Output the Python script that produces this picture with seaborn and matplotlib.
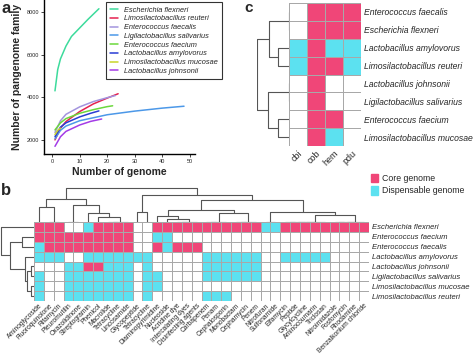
import matplotlib
matplotlib.use("Agg")
import matplotlib.pyplot as plt
import numpy as np
import pandas as pd
import seaborn as sns
from matplotlib.colors import ListedColormap
from matplotlib.lines import Line2D
from matplotlib.patches import Patch

sns.set_theme(style="white")
plt.rcParams["font.family"] = ["Liberation Sans", "DejaVu Sans"]

W, H = 474, 355
PINK = "#F04678"
CYAN = "#5CE1F0"
GRID = "#a8a8a8"
TREE = "#555555"

# ---- panel a: pangenome curves ----
species_a = ["Escherichia flexneri", "Limosilactobacillus reuteri", "Enterococcus faecalis",
             "Ligilactobacillus salivarius", "Enterococcus faecium", "Lactobacillus amylovorus",
             "Limosilactobacillus mucosae", "Lactobacillus johnsonii"]
colors_a = ["#3DDB9C", "#E5214F", "#A394DE", "#4C98E8", "#6BD83C", "#2A3CD4", "#C9D42A", "#A43BE6"]

flex_x = [1, 2, 3, 5, 7, 10, 13, 17]
flex_y = [4300, 5300, 5800, 6400, 6850, 7250, 7650, 8150]
reut_x = [1, 3, 5, 10, 15, 20, 24]
reut_y = [2000, 2550, 2860, 3330, 3690, 3960, 4165]
faecalis_x = [1, 3, 5, 10, 15, 20, 23]
faecalis_y = [2350, 2900, 3200, 3550, 3800, 3980, 4080]
saliv_x = [1, 3, 5, 10, 20, 30, 40, 48]
saliv_y = [2050, 2450, 2650, 2900, 3180, 3350, 3490, 3580]
faecium_x = [1, 3, 5, 10, 15, 20, 22]
faecium_y = [2470, 2800, 3000, 3250, 3420, 3560, 3600]
amylo_x = [1, 3, 5, 10, 14, 17]
amylo_y = [2150, 2600, 2800, 3080, 3250, 3360]
mucos_x = [1, 2, 3]
mucos_y = [2250, 2450, 2550]
johns_x = [1, 3, 5, 10, 14, 18]
johns_y = [1700, 2150, 2400, 2700, 2870, 2980]

curves = [(flex_x, flex_y), (reut_x, reut_y), (faecalis_x, faecalis_y), (saliv_x, saliv_y),
          (faecium_x, faecium_y), (amylo_x, amylo_y), (mucos_x, mucos_y), (johns_x, johns_y)]

# ---- panel b: resistance classes ----
drugs = ["Aminoglycoside", "Fluoroquinolone", "Rifamycin", "Pleuromutilin", "Oxazolidinone",
         "Streptogramin", "Phenicol", "Macrolide", "Tetracycline", "Lincosamide", "Glycopeptide",
         "Tetracycline", "Diaminopyrimidine", "Nucleoside", "Acridine dye", "Intercalating dyes",
         "Disinfecting agents", "Carbapenem", "Penam", "Cephalosporin", "Monobactam", "Cephamycin",
         "Penem", "Nitrofuran", "Sulfonamide", "Elfamycin", "Peptide", "Glycylcycline",
         "Aminocoumarin", "Triclosan", "Nitroimidazole", "Fosfomycin", "Rhodamine",
         "Benzalkonium chloride"]
species_b = ["Escherichia flexneri", "Enterococcus faecium", "Enterococcus faecalis",
             "Lactobacillus amylovorus", "Lactobacillus johnsonii", "Ligilactobacillus salivarius",
             "Limosilactobacillus mucosae", "Limosilactobacillus reuteri"]
# P = core, C = dispensable, W = absent
rows_b = [
    "PPP WW C PPPP WW PPPPPPPPPPP CC PPPPPPPPP",
    "PPPPPPPPPP WW CC WWWWWWWWWWWWWWWWWWWW",
    "C PPPPPPPPP WW P C PPP WWWWWWWWWWWWWWWWW",
    "CCC WW CCCCCCC WWWWW CCCCCC WW CCCCC WWWW",
    "WWW CC PP CCC W C WWWWW CCCCCC WWWWWWWWWWW",
    "C WW CCCCCCC W CC WWWW CCCCCC WWWWWWWWWWW",
    "C WW CCCCCCC W CC WWWWWWWWWWWWWWWWWWWWW",
    "C WW CCCCCCC W C WWWWW CCC WWWWWWWWWWWWWW",
]
tree_b_rows = (33, 0, (24, (12, 1, 2), (9, 3, (7, (3, 4, 5), (3, 6, 7)))))
tree_b_cols = (34,
               (23, (15, 0, (0, 1, 2)), (17, (0, 3, 4), (9, 5, (5, 6, (0, (0, 7, 8), 9))))),
               (27, (10, 10, 11),
                (22, (12, (6, 12, (3, 13, (0, (0, 14, 15), 16))),
                      (9, (0, (0, 17, 18), 19), (0, (0, 20, 21), 22))),
                 (10, (0, 23, 24),
                  (7, (0, (0, (0, (0, 25, 26), 27), 28), 29), (0, (0, (0, 30, 31), 32), 33))))))

# ---- panel c: B12 pathways ----
genes_c = ["cbi", "cob", "hem", "pdu"]
species_c = ["Enterococcus faecalis", "Escherichia flexneri", "Lactobacillus amylovorus",
             "Limosilactobacillus reuteri", "Lactobacillus johnsonii", "Ligilactobacillus salivarius",
             "Enterococcus faecium", "Limosilactobacillus mucosae"]
rows_c = ["WPPP", "WPPP", "CPCC", "CPPC", "WPWW", "WPWW", "WPPW", "WPCW"]
tree_c_rows = (32, (20, (0, 0, 1), (11, 2, 3)), (21.5, (0, 4, 5), (11, 6, 7)))

code = {"W": 0, "C": 1, "P": 2}
cmap = ListedColormap(["white", CYAN, PINK])


def to_matrix(rows):
    return np.array([[code[ch] for ch in r.replace(" ", "")] for r in rows])


def draw_tree(ax, node, orient):
    if isinstance(node, int):
        return node + 0.5, 0
    h, a, b = node
    pa, ha = draw_tree(ax, a, orient)
    pb, hb = draw_tree(ax, b, orient)
    if orient == "top":
        ax.plot([pa, pa, pb, pb], [ha, h, h, hb], color=TREE, lw=0.8, solid_capstyle="butt")
    else:
        ax.plot([ha, h, h, hb], [pa, pa, pb, pb], color=TREE, lw=0.8, solid_capstyle="butt")
    return (pa + pb) / 2, h


fig = plt.figure(figsize=(W / 100, H / 100), dpi=100)


def ax_px(x0, y0, x1, y1):
    return fig.add_axes([x0 / W, 1 - y1 / H, (x1 - x0) / W, (y1 - y0) / H])


# panel a
ax_a = ax_px(44, 0, 195, 154)
df_a = pd.concat([pd.DataFrame({"genome": x, "family": y, "species": s})
                  for (x, y), s in zip(curves, species_a)])
sns.lineplot(data=df_a, x="genome", y="family", hue="species", hue_order=species_a,
             palette=dict(zip(species_a, colors_a)), estimator=None, legend=False, lw=1.1, ax=ax_a)
ax_a.set_xlim(-3, 52)
ax_a.set_ylim(1340, 8560)
ax_a.set_xticks([0, 10, 20, 30, 40, 50])
ax_a.set_yticks([2000, 4000, 6000, 8000])
ax_a.tick_params(labelsize=4, length=2, width=0.6, pad=1.5, left=True, bottom=True)
for s in ["top", "right"]:
    ax_a.spines[s].set_visible(False)
for s in ["left", "bottom"]:
    ax_a.spines[s].set_color("black")
    ax_a.spines[s].set_linewidth(1.0)
ax_a.set_xlabel("Number of genome", fontsize=7.5, fontweight="bold", labelpad=2)
ax_a.set_ylabel("Number of pangenome family", fontsize=7.5, fontweight="bold", labelpad=3)
handles = [Line2D([], [], color=c, lw=1.1) for c in colors_a]
leg = fig.legend(handles, species_a, loc="upper left", bbox_to_anchor=(106 / W, 1 - 2 / H),
                 prop=dict(style="italic", size=5.3), frameon=True, fancybox=False,
                 edgecolor="black", handlelength=1.0, handletextpad=0.8, labelspacing=0.22,
                 borderpad=0.6, borderaxespad=0)
leg.get_frame().set_linewidth(0.8)

# panel c
ax_c = ax_px(289, 3, 361, 146)
sns.heatmap(to_matrix(rows_c), cmap=cmap, vmin=0, vmax=2, cbar=False, linewidths=0.5,
            linecolor=GRID, xticklabels=genes_c, yticklabels=species_c, ax=ax_c)
ax_c.yaxis.tick_right()
ax_c.tick_params(length=0, pad=2)
ax_c.set_yticklabels(species_c, rotation=0, style="italic", fontsize=6.2)
ax_c.set_xticklabels(genes_c, rotation=45, ha="right", rotation_mode="anchor", fontsize=6.5)
dc = ax_px(257, 3, 289, 146)
draw_tree(dc, tree_c_rows, "left")
dc.set_xlim(32, 0)
dc.set_ylim(8, 0)
dc.axis("off")

# panel b
ax_b = ax_px(34, 222, 369, 301)
sns.heatmap(to_matrix(rows_b), cmap=cmap, vmin=0, vmax=2, cbar=False, linewidths=0.5,
            linecolor=GRID, xticklabels=drugs, yticklabels=species_b, ax=ax_b)
ax_b.yaxis.tick_right()
ax_b.tick_params(length=0, pad=2)
ax_b.tick_params(axis="x", pad=1)
ax_b.set_yticklabels(species_b, rotation=0, style="italic", fontsize=5.5)
ax_b.set_xticklabels(drugs, rotation=45, ha="right", rotation_mode="anchor", fontsize=4.8)
dbr = ax_px(0, 222, 34, 301)
draw_tree(dbr, tree_b_rows, "left")
dbr.set_xlim(34, 0)
dbr.set_ylim(8, 0)
dbr.axis("off")
dbc = ax_px(34, 186, 369, 222)
draw_tree(dbc, tree_b_cols, "top")
dbc.set_xlim(0, len(drugs))
dbc.set_ylim(0, 36)
dbc.axis("off")

fig.legend([Patch(color=PINK), Patch(color=CYAN)], ["Core genome", "Dispensable genome"],
           loc="upper left", bbox_to_anchor=(370 / W, 1 - 173 / H), frameon=False,
           fontsize=6.3, handlelength=0.8, handleheight=1.1, handletextpad=0.5,
           labelspacing=0.35, borderaxespad=0, borderpad=0.1)

fig.text(2 / W, 1 - 1 / H, "a", fontsize=12, fontweight="bold", va="top")
fig.text(1 / W, 1 - 183 / H, "b", fontsize=12, fontweight="bold", va="top")
fig.text(244 / W, 1 - 1 / H, "c", fontsize=11, fontweight="bold", va="top")

fig.savefig("out.png", dpi=100)
